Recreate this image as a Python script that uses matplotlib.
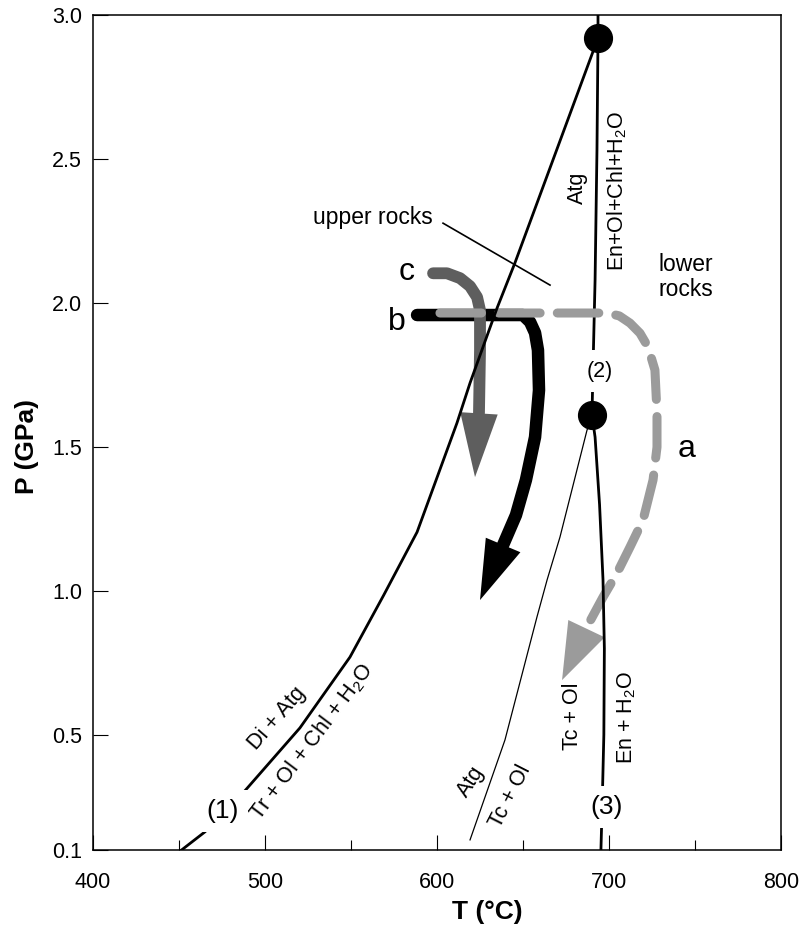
import numpy as np
import matplotlib.pyplot as plt

plt.rcParams['font.family'] = ['Liberation Sans', 'DejaVu Sans']
plt.rcParams['mathtext.fontset'] = 'custom'
plt.rcParams['mathtext.rm'] = 'Liberation Sans'
plt.rcParams['mathtext.default'] = 'regular'

# reaction curves, T in degC and P in GPa
r1_T = [451.5, 465.1, 487.2, 520.3, 549.4, 569.0, 588.4, 611.6, 619.2, 634.9, 645.3, 693.6]
r1_P = [0.10, 0.163, 0.298, 0.524, 0.77, 0.985, 1.204, 1.583, 1.722, 1.982, 2.139, 2.92]

r2_T = [693.6, 693.6, 693.0, 691.9, 690.8, 690.1]
r2_P = [3.0, 2.92, 2.531, 2.08, 1.8, 1.61]

r3_T = [690.1, 691.9, 694.5, 696.5, 697.3, 697.0, 696.0, 695.3]
r3_P = [1.61, 1.534, 1.30, 1.04, 0.80, 0.50, 0.25, 0.10]

r4_T = [690.1, 687.2, 671.5, 664.0, 658.1, 639.5, 619.2]
r4_P = [1.61, 1.558, 1.187, 1.038, 0.909, 0.482, 0.135]

# invariant points
inv_T = [693.6, 690.1]
inv_P = [2.92, 1.61]

# P-T paths (line part, then arrow tip)
a_T = [601.7, 698.8, 706.0, 712.2, 718.0, 722.7, 726.7, 727.9, 727.9, 725.6, 719.8, 712.2, 704.7, 696.5, 689.0]
a_P = [1.965, 1.965, 1.955, 1.930, 1.895, 1.847, 1.767, 1.617, 1.499, 1.385, 1.246, 1.152, 1.062, 0.978, 0.895]
a_tip = (672.7, 0.69)

b_T = [588.4, 650.0, 654.1, 657.0, 658.7, 659.3, 657.0, 651.7, 645.9, 638.4]
b_P = [1.958, 1.958, 1.934, 1.896, 1.836, 1.697, 1.534, 1.385, 1.263, 1.159]
b_tip = (625.0, 0.968)

c_T = [597.7, 605.8, 613.4, 619.2, 623.3, 625.0, 625.0, 624.4]
c_P = [2.103, 2.103, 2.086, 2.058, 2.020, 1.975, 1.836, 1.617]
c_tip = (622.1, 1.395)

x_ticks = [400, 500, 600, 700, 800]
x_minor = [450, 550, 650, 750]
y_ticks = [0.1, 0.5, 1.0, 1.5, 2.0, 2.5, 3.0]
y_labels = ['0.1', '0.5', '1.0', '1.5', '2.0', '2.5', '3.0']

fig = plt.figure(figsize=(8.04, 9.27), dpi=100)
ax = fig.add_axes([0.1157, 0.0831, 0.8557, 0.9007])
ax.set_xlim(400, 800)
ax.set_ylim(0.1, 3.0)


def head(tip, base, color, hl, hw, z):
    ax.annotate('', xy=tip, xytext=base,
                arrowprops=dict(arrowstyle=f'-|>,head_length={hl},head_width={hw}',
                                color=color, lw=0, shrinkA=0, shrinkB=0,
                                mutation_scale=10), zorder=z)


# path b - black
ax.plot(b_T, b_P, color='black', lw=9, solid_capstyle='round', solid_joinstyle='round', zorder=2)
head(b_tip, (b_T[-1], b_P[-1]), 'black', 4.3, 1.35, 2)

# path c - dark grey
ax.plot(c_T, c_P, color='#5e5e5e', lw=8.5, solid_capstyle='round', solid_joinstyle='round', zorder=3)
head(c_tip, (c_T[-1], c_P[-1]), '#5e5e5e', 4.6, 1.35, 3)

# reaction (2) sits under the dashed path
ax.plot(r2_T, r2_P, color='black', lw=2.0, zorder=3.5)

# path a - light grey dashed
ax.plot(a_T, a_P, color='#9b9b9b', lw=6.5, linestyle=(0, (4.6, 1.9)),
        dash_capstyle='round', solid_joinstyle='round', zorder=4)
head(a_tip, (a_T[-1], a_P[-1]), '#9b9b9b', 4.1, 1.45, 4)

ax.plot(r1_T, r1_P, color='black', lw=2.0, zorder=5)
ax.plot(r3_T, r3_P, color='black', lw=2.0, zorder=5)
ax.plot(r4_T, r4_P, color='black', lw=0.9, zorder=5)
ax.plot(inv_T, inv_P, 'o', color='black', ms=20, zorder=6)

# leader for "upper rocks"
ax.plot([603.5, 665.7], [2.277, 2.062], color='black', lw=1.2, zorder=5)

fs = 15.5
box = dict(boxstyle='square,pad=0.35', fc='white', ec='none')
ax.text(475.6, 0.235, '(1)', fontsize=19, ha='center', va='center', bbox=box, zorder=7)
ax.text(694.8, 1.763, '(2)', fontsize=15.5, ha='center', va='center',
        bbox=dict(boxstyle='square,pad=0.5', fc='white', ec='none'), zorder=7)
ax.text(698.8, 0.249, '(3)', fontsize=19, ha='center', va='center', bbox=box, zorder=7)

ax.text(597.7, 2.298, 'upper rocks', fontsize=16.5, ha='right', va='center')
ax.text(728.5, 2.09, 'lower\nrocks', fontsize=16.5, ha='left', va='center', linespacing=1.15)
ax.text(582.6, 2.079, 'c', fontsize=23, ha='center', va='baseline')
ax.text(576.7, 1.906, 'b', fontsize=23, ha='center', va='baseline')
ax.text(745.0, 1.465, 'a', fontsize=23, ha='center', va='baseline')

ax.text(681.4, 2.399, 'Atg', fontsize=fs, rotation=90, ha='center', va='center')
ax.text(705.0, 2.39, 'En+Ol+Chl+H$_2$O', fontsize=fs, rotation=90, ha='center', va='center')
ax.text(678.9, 0.563, 'Tc + Ol', fontsize=fs, rotation=90, ha='center', va='center')
ax.text(710.5, 0.56, 'En + H$_2$O', fontsize=fs, rotation=90, ha='center', va='center')
ax.text(619.8, 0.336, 'Atg', fontsize=fs, rotation=57, ha='center', va='center')
ax.text(642.4, 0.2875, 'Tc + Ol', fontsize=fs, rotation=63, ha='center', va='center')
ax.text(507.0, 0.558, 'Di + Atg', fontsize=fs, rotation=49, ha='center', va='center')
ax.text(527.3, 0.475, 'Tr + Ol + Chl + H$_2$O', fontsize=fs, rotation=53, ha='center', va='center')

ax.text(0.573, -0.0743, 'T (°C)', transform=ax.transAxes, fontsize=19,
        fontweight='bold', ha='center', va='center')
ax.text(-0.096, 0.483, 'P (GPa)', transform=ax.transAxes, fontsize=19,
        fontweight='bold', rotation=90, ha='center', va='center')

ax.set_xticks(x_ticks)
ax.set_xticks(x_minor, minor=True)
ax.set_yticks(y_ticks)
ax.set_yticklabels(y_labels)
ax.tick_params(which='major', direction='in', length=10.5, width=0.8, labelsize=15.5)
ax.tick_params(axis='x', which='major', pad=16)
ax.tick_params(axis='y', which='major', pad=8)
ax.tick_params(which='minor', direction='in', length=7, width=0.8)
for s in ax.spines.values():
    s.set_linewidth(1.1)

fig.savefig('out.png', dpi=100)
